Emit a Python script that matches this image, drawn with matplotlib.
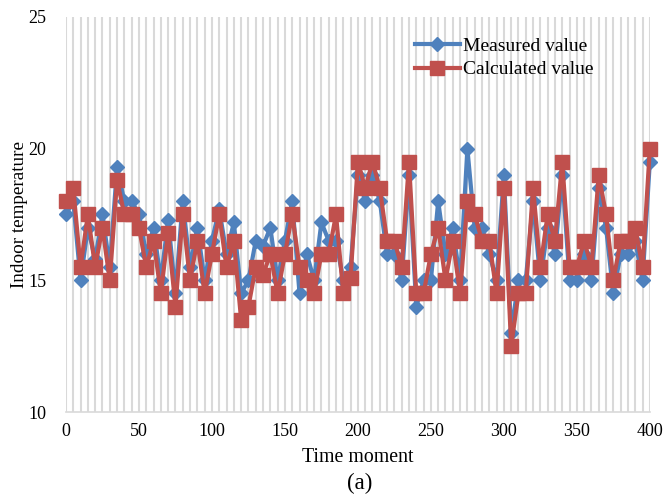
import matplotlib.pyplot as plt
from matplotlib.ticker import MultipleLocator

plt.rcParams['font.family'] = ['Liberation Serif', 'DejaVu Serif']

# sampling instants, one every 5 steps
time = list(range(0, 405, 5))

measured = [17.5, 18.0, 15.0, 17.0, 15.8, 17.5, 15.5, 19.3, 18.0, 18.0,
            17.5, 16.0, 17.0, 15.0, 17.3, 14.5, 18.0, 15.5, 17.0, 15.0,
            16.5, 17.7, 16.0, 17.2, 14.5, 15.0, 16.5, 16.3, 17.0, 15.0,
            16.5, 18.0, 14.5, 16.0, 15.0, 17.2, 16.5, 16.5, 15.0, 15.5,
            19.0, 18.0, 19.0, 18.0, 16.0, 16.0, 15.0, 19.0, 14.0, 15.0,
            15.0, 18.0, 16.0, 17.0, 15.0, 20.0, 17.0, 17.0, 16.0, 15.0,
            19.0, 13.0, 15.0, 15.0, 18.0, 15.0, 17.0, 16.0, 19.0, 15.0,
            15.0, 16.0, 15.0, 18.5, 17.0, 14.5, 16.0, 16.0, 16.5, 15.0,
            19.5]

calculated = [18.0, 18.5, 15.5, 17.5, 15.5, 17.0, 15.0, 18.8, 17.5, 17.5,
              17.0, 15.5, 16.5, 14.5, 16.8, 14.0, 17.5, 15.0, 16.5, 14.5,
              16.0, 17.5, 15.5, 16.5, 13.5, 14.0, 15.5, 15.2, 16.0, 14.5,
              16.0, 17.5, 15.5, 15.0, 14.5, 16.0, 16.0, 17.5, 14.5, 15.1,
              19.5, 18.5, 19.5, 18.5, 16.5, 16.5, 15.5, 19.5, 14.5, 14.5,
              16.0, 17.0, 15.0, 16.5, 14.5, 18.0, 17.5, 16.5, 16.5, 14.5,
              18.5, 12.5, 14.5, 14.5, 18.5, 15.5, 17.5, 16.5, 19.5, 15.5,
              15.5, 16.5, 15.5, 19.0, 17.5, 15.0, 16.5, 16.5, 17.0, 15.5,
              20.0]

fig = plt.figure(figsize=(6.65, 4.97), dpi=100)
ax = fig.add_axes([0.0992, 0.171, 0.878, 0.795])

ax.plot(time, measured, color='#4f81bd', lw=3, marker='D', ms=7,
        mec='#4f81bd', label='Measured value', zorder=3, clip_on=False)
ax.plot(time, calculated, color='#c0504d', lw=3, marker='s', ms=9.5,
        mec='#c0504d', label='Calculated value', zorder=4, clip_on=False)

ax.set_xlim(0, 400)
ax.set_ylim(10, 25)
ax.xaxis.set_major_locator(MultipleLocator(50))
ax.xaxis.set_minor_locator(MultipleLocator(5))
ax.yaxis.set_major_locator(MultipleLocator(5))
ax.grid(True, which='both', axis='x', color='#d9d9d9', lw=1.5, zorder=0)
ax.set_axisbelow(True)

for side in ['top', 'left', 'right']:
    ax.spines[side].set_visible(False)
ax.spines['bottom'].set_color('#d9d9d9')
ax.spines['bottom'].set_linewidth(1.2)
ax.tick_params(which='both', length=0, labelsize=13)
ax.tick_params(axis='x', pad=8)
ax.tick_params(axis='y', pad=14)

ax.set_xlabel('Time moment', fontsize=14.3, labelpad=6)
ax.set_ylabel('Indoor temperature', fontsize=13.8, labelpad=0)

ax.legend(loc='upper left', bbox_to_anchor=(0.598, 0.948), frameon=False,
          borderpad=0, borderaxespad=0, fontsize=14, handlelength=2.3,
          handletextpad=0.15, labelspacing=0.3)

fig.text(0.541, 0.028, '(a)', ha='center', va='center', fontsize=16.5)

plt.savefig('out.png', dpi=100)
